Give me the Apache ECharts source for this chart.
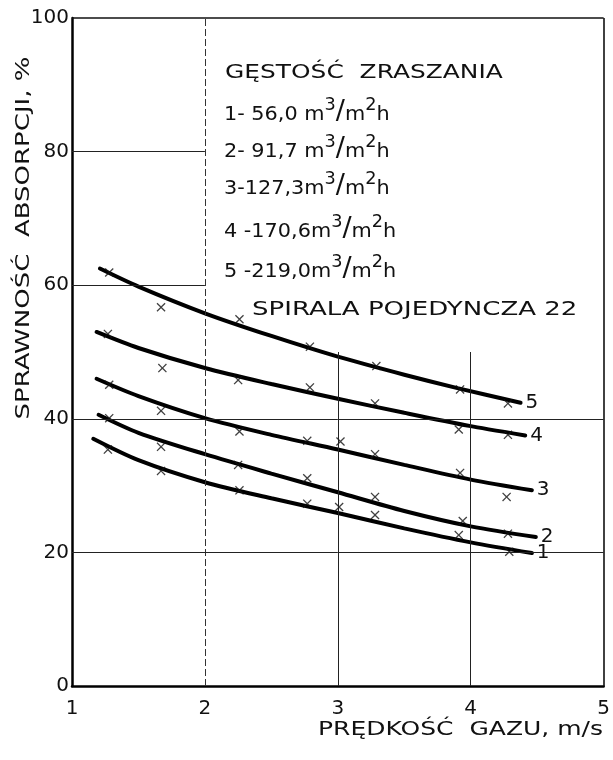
<!DOCTYPE html>
<html><head><meta charset="utf-8">
<script src="https://cdn.jsdelivr.net/npm/echarts@6/dist/echarts.min.js"></script>
<style>html,body{margin:0;padding:0;background:#fff}#c{width:613px;height:760px}</style>
</head><body><div id="c"></div>
<script>
// ---- data ----
const xTickLabels = ['1', '2', '3', '4', '5'];
const yTickLabels = ['0', '20', '40', '60', '80', '100'];
const curveNames = ['1', '2', '3', '4', '5'];
const legendTitle = 'GĘSTOŚĆ  ZRASZANIA';
const densityPrefixes = ['1- 56,0 m', '2- 91,7 m', '3-127,3m', '4 -170,6m', '5 -219,0m'];
const noteText = 'SPIRALA POJEDYNCZA 22';
const xAxisTitle = 'PRĘDKOŚĆ  GAZU, m/s';
const yAxisTitle = 'SPRAWNOŚĆ  ABSORPCJI, %';

// measured points (x)
const points1 = [[1.27,35.4],[1.67,32.2],[2.26,29.3],[2.77,27.3],[3.01,26.8],[3.28,25.6],[3.91,22.6],[4.29,20.1]];
const points2 = [[1.28,40.1],[1.67,35.8],[2.25,33.1],[2.77,31.1],[3.28,28.3],[3.94,24.7],[4.28,22.8]];
const points3 = [[1.28,45.1],[1.67,41.2],[2.26,38.1],[2.77,36.7],[3.02,36.6],[3.28,34.7],[3.92,31.9],[4.27,28.3]];
const points4 = [[1.27,52.7],[1.68,47.6],[2.25,45.8],[2.79,44.7],[3.28,42.3],[3.91,38.4],[4.28,37.6]];
const points5 = [[1.28,61.9],[1.67,56.7],[2.26,54.9],[2.79,50.8],[3.29,47.9],[3.92,44.4],[4.28,42.3]];

// fitted curves
const curve1 = [[1.16,37.0],[1.5,33.8],[2,30.5],[2.5,28.1],[3,25.9],[3.5,23.6],[4,21.5],[4.46,19.9]];
const curve2 = [[1.2,40.6],[1.5,37.9],[2,34.7],[2.5,31.8],[3,29.0],[3.5,26.2],[4,23.9],[4.49,22.3]];
const curve3 = [[1.185,46.0],[1.5,43.4],[2,40.1],[2.5,37.6],[3,35.4],[3.5,33.1],[4,30.9],[4.46,29.3]];
const curve4 = [[1.185,53.0],[1.5,50.6],[2,47.6],[2.5,45.2],[3,43.0],[3.5,40.9],[4,38.9],[4.41,37.5]];
const curve5 = [[1.21,62.5],[1.5,59.8],[2,55.8],[2.5,52.4],[3,49.3],[3.5,46.6],[3.9,44.6],[4.375,42.4]];

const pointSets = [points1, points2, points3, points4, points5];
const curveSets = [curve1, curve2, curve3, curve4, curve5];

// ---- chart ----
const FONT = 'DejaVu Sans';
const INK = '#111';
const chart = echarts.init(document.getElementById('c'), null, {renderer: 'canvas'});

const crossPath = 'path://M0,1L1,0L5,4L9,0L10,1L6,5L10,9L9,10L5,6L1,10L0,9L4,5Z';

const series = [];
curveSets.forEach((c, i) => {
  series.push({
    type: 'line', name: 'curve' + curveNames[i], data: c, smooth: 0.3,
    showSymbol: false, symbol: 'none', silent: true,
    lineStyle: {color: '#000', width: 4, cap: 'round'},
    endLabel: {show: true, formatter: curveNames[i], fontFamily: FONT, fontSize: 20,
               color: INK, distance: 5},
    z: 3
  });
});
pointSets.forEach((p, i) => {
  series.push({
    type: 'scatter', name: 'pts' + curveNames[i], data: p, symbol: crossPath, symbolSize: 9,
    itemStyle: {color: '#111'}, silent: true, z: 4
  });
});

const thin = {color: '#222', width: 1, type: 'solid'};
const dashed = {color: '#333', width: 1, type: [7, 3]};
const frame = {color: '#111', width: 1.6, type: 'solid'};
const seg = (a, b, ls) => [{coord: a, lineStyle: ls}, {coord: b}];
series.push({
  type: 'line', data: [], silent: true,
  markLine: {
    silent: true, symbol: ['none', 'none'], label: {show: false}, animation: false,
    data: [
      seg([1, 100], [5, 100], frame),
      seg([5, 0], [5, 100], frame),
      seg([2, 0], [2, 100], dashed),
      seg([3, 0], [3, 50], thin),
      seg([4, 0], [4, 50], thin),
      seg([1, 80], [2, 80], thin),
      seg([1, 60], [2, 60], thin),
      seg([1, 40], [5, 40], thin),
      seg([1, 20], [5, 20], thin)
    ]
  },
  z: 1
});

function legendLine(i) {
  return '{n|' + densityPrefixes[i] + '}{s|3}{sl|/}{n|m}{s|2}{n|h}';
}
const rich = {
  n: {fontFamily: FONT, fontSize: 20, color: INK, verticalAlign: 'bottom'},
  s: {fontFamily: FONT, fontSize: 17, color: INK, verticalAlign: 'bottom', padding: [0, 0, 11, 0]},
  sl: {fontFamily: FONT, fontSize: 26, color: INK, verticalAlign: 'bottom'}
};
const legendY = [117, 154, 191, 234, 274];
const graphics = [
  {type: 'text', x: 225, y: 73, scaleX: 1.31,
   style: {text: legendTitle, fontFamily: FONT, fontSize: 19, fill: INK, align: 'left', verticalAlign: 'middle'}},
  {type: 'text', x: 252, y: 310, scaleX: 1.37,
   style: {text: noteText, fontFamily: FONT, fontSize: 19, fill: INK, align: 'left', verticalAlign: 'middle'}},
  {type: 'text', x: 603, y: 730, scaleX: 1.25,
   style: {text: xAxisTitle, fontFamily: FONT, fontSize: 20, fill: INK, align: 'right', verticalAlign: 'middle'}},
  {type: 'text', x: 24, y: 238, rotation: Math.PI / 2, scaleX: 1.3,
   style: {text: yAxisTitle, fontFamily: FONT, fontSize: 20, fill: INK, align: 'center', verticalAlign: 'middle'}}
];
legendY.forEach((y, i) => {
  graphics.push({type: 'text', x: 224, y: y + 8, scaleX: 1.04,
    style: {text: legendLine(i), rich: rich, fontFamily: FONT, fontSize: 20, fill: INK,
            align: 'left', verticalAlign: 'bottom'}});
});

chart.setOption({
  animation: false,
  backgroundColor: '#fff',
  grid: {left: 72, right: 8, top: 18, bottom: 74, containLabel: false},
  xAxis: {
    type: 'value', min: 1, max: 5, interval: 1,
    axisLine: {show: true, onZero: false, lineStyle: {color: '#000', width: 2.5}},
    axisTick: {show: false}, splitLine: {show: false},
    axisLabel: {fontFamily: FONT, fontSize: 20, color: INK, margin: 13,
                formatter: v => xTickLabels[Math.round(v) - 1]}
  },
  yAxis: {
    type: 'value', min: 0, max: 100, interval: 20,
    axisLine: {show: true, onZero: false, lineStyle: {color: '#000', width: 2.5}},
    axisTick: {show: false}, splitLine: {show: false},
    axisLabel: {fontFamily: FONT, fontSize: 20, color: INK, margin: 3,
                formatter: v => yTickLabels[Math.round(v / 20)]}
  },
  series: series,
  graphic: graphics
});
</script></body></html>
